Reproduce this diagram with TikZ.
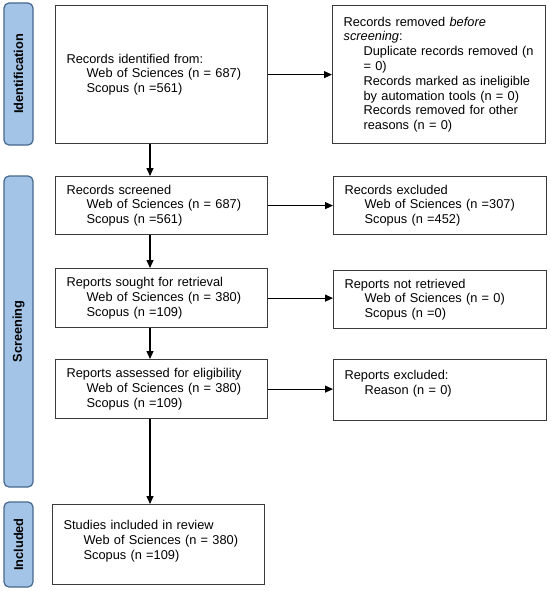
\documentclass[tikz,border=0pt]{standalone}
\usepackage{fontspec}
\setmainfont{Liberation Sans}
\usetikzlibrary{arrows.meta}
\definecolor{phasefill}{HTML}{A3C4E6}
\definecolor{phaseline}{HTML}{46688E}
\definecolor{boxline}{HTML}{3A3A3A}
\newcommand{\ind}{\hspace*{20pt}}

\begin{document}
\begin{tikzpicture}[x=1pt,y=-1pt,
    font=\fontsize{12.8}{14.8}\selectfont,
    box/.style={draw=boxline, line width=1.2pt, anchor=north west, align=left,
        inner xsep=11pt, inner ysep=0pt},
    leftbox/.style={box, text width=190pt},
    rightbox/.style={box, text width=191pt},
    phase/.style={draw=phaseline, fill=phasefill, line width=1.2pt, rounded corners=5pt,
        rotate=90, minimum height=29pt, inner sep=0pt,
        font=\fontsize{12.8}{14.8}\selectfont\bfseries},
    arr/.style={-{Triangle[length=8pt,width=7pt]}, line width=1.1pt}]

    \useasboundingbox (0,0) rectangle (550,591);

    % phase labels
    \node[phase, minimum width=142pt] (idlab) at (18.5,74) {Identification};
    \node[phase, minimum width=311pt] (scrlab) at (18.5,331.5) {Screening};
    \node[phase, minimum width=85pt] (inclab) at (18.5,544.5) {Included};

    % left column
    \node[leftbox, minimum height=138pt] (ident) at (55,5)
        {Records identified from:\\
         \ind Web of Sciences (n = 687)\\
         \ind Scopus (n =561)};
    \node[leftbox, minimum height=58pt] (screen) at (55,176)
        {Records screened\\
         \ind Web of Sciences (n = 687)\\
         \ind Scopus (n =561)};
    \node[leftbox, minimum height=59pt] (sought) at (55,268)
        {Reports sought for retrieval\\
         \ind Web of Sciences (n = 380)\\
         \ind Scopus (n =109)};
    \node[leftbox, minimum height=59pt] (assess) at (55,359)
        {Reports assessed for eligibility\\
         \ind Web of Sciences (n = 380)\\
         \ind Scopus (n =109)};
    \node[leftbox, minimum height=80pt] (incl) at (52,504)
        {Studies included in review\\
         \ind Web of Sciences (n = 380)\\
         \ind Scopus (n =109)\\[-5pt]\mbox{}};

    % right column
    \node[rightbox, minimum height=138pt] (removed) at (332,5)
        {Records removed \textit{before}\\
         \textit{screening}:\\
         \ind Duplicate records removed (n\\
         \ind = 0)\\
         \ind Records marked as ineligible\\
         \ind by automation tools (n = 0)\\
         \ind Records removed for other\\
         \ind reasons (n = 0)};
    \node[rightbox, minimum height=58pt] (excl) at (333,176)
        {Records excluded\\
         \ind Web of Sciences (n =307)\\
         \ind Scopus (n =452)};
    \node[rightbox, minimum height=58pt] (notret) at (333,270)
        {Reports not retrieved\\
         \ind Web of Sciences (n = 0)\\
         \ind Scopus (n =0)};
    \node[rightbox, minimum height=61pt] (repexcl) at (333,359)
        {Reports excluded:\\
         \ind Reason (n = 0)\\
         \mbox{}};

    % downward arrows
    \coordinate (ax) at (150,0);
    \draw[arr] (ident.south -| ax) -- (screen.north -| ax);
    \draw[arr] (screen.south -| ax) -- (sought.north -| ax);
    \draw[arr] (sought.south -| ax) -- (assess.north -| ax);
    \draw[arr] (assess.south -| ax) -- (incl.north -| ax);

    % side arrows
    \draw[arr] (ident.east) -- (removed.west);
    \draw[arr] (screen.east) -- (excl.west);
    \draw[arr] (sought.east) -- (sought.east -| notret.west);
    \draw[arr] (assess.east) -- (assess.east -| repexcl.west);
\end{tikzpicture}
\end{document}
